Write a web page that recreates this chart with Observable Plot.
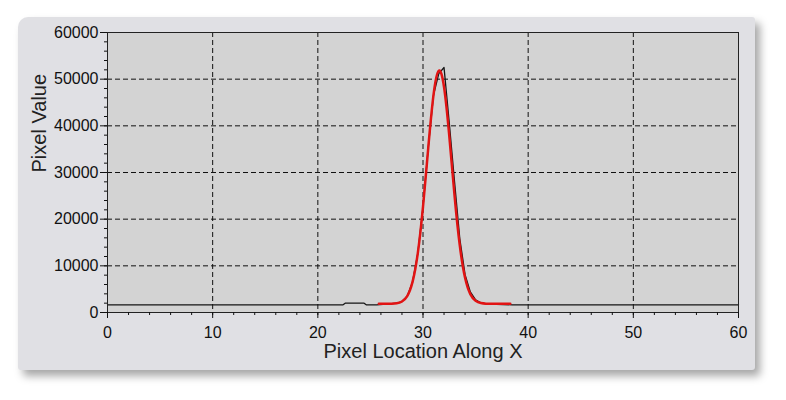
<!DOCTYPE html>
<html>
<head>
<meta charset="utf-8">
<script src="https://cdn.jsdelivr.net/npm/d3@7"></script>
<script src="https://cdn.jsdelivr.net/npm/@observablehq/plot@0.6"></script>
<style>
html, body { margin: 0; padding: 0; background: #ffffff; width: 786px; height: 400px; overflow: hidden; }
#panel { position: absolute; left: 18px; top: 17px; width: 737px; height: 353px; background: #e0e0e4;
  border-radius: 10px 3px 3px 3px; box-shadow: 5px 6px 8px rgba(0,0,0,0.35); }
#chart { position: absolute; left: 0; top: 0; }
</style>
</head>
<body>
<div id="panel"></div>
<div id="chart"></div>
<script>
// Measured pixel profile (black)
const profileX = [0, 22.4, 22.6, 24.4, 24.6, 25.6, 26.5, 27.5, 28, 28.5, 29, 29.5, 30, 30.5, 31, 31.5, 32, 32.5, 33, 33.5, 34, 34.5, 35, 35.5, 36, 37, 38.5, 60];
const profileY = [1650, 1650, 2000, 2000, 1650, 1650, 1800, 2000, 2350, 3500, 6500, 12600, 22600, 35300, 46600, 51200, 52500, 40600, 28000, 15800, 8100, 4400, 2700, 2100, 1850, 1750, 1650, 1650];

// Fitted curve (red)
const fitX = [25.8, 26.5, 27, 27.5, 28, 28.5, 29, 29.5, 30, 30.5, 31, 31.5, 32, 32.5, 33, 33.5, 34, 34.5, 35, 35.5, 36, 36.5, 37, 38.3];
const fitY = [1850, 1850, 1876, 1975, 2350, 3520, 6500, 12630, 22640, 35280, 46620, 51800, 48290, 37810, 25050, 14320, 7440, 3940, 2500, 2020, 1890, 1855, 1850, 1850];

const xTicks = [0, 10, 20, 30, 40, 50, 60];
const yTicks = [0, 10000, 20000, 30000, 40000, 50000, 60000];
const xGrid = [10, 20, 30, 40, 50];
const yGrid = [10000, 20000, 30000, 40000, 50000];
const xMinor = d3.range(0, 61, 2);
const yMinor = d3.range(0, 60001, 2000);

const xTitle = "Pixel Location Along X";
const yTitle = "Pixel Value";

const profile = profileX.map((x, i) => ({x, y: profileY[i]}));
const fit = fitX.map((x, i) => ({x, y: fitY[i]}));

const font = "'Liberation Sans', Arial, sans-serif";

const chart = Plot.plot({
  width: 786,
  height: 400,
  marginLeft: 107,
  marginRight: 48,
  marginTop: 32,
  marginBottom: 88,
  style: { background: "transparent", fontFamily: font, fontSize: "16px", color: "#111" },
  x: { domain: [0, 60], label: null },
  y: { domain: [0, 60000], label: null },
  marks: [
    Plot.frame({ fill: "#d3d3d3", stroke: null }),
    Plot.gridX(xGrid, { stroke: "#111", strokeOpacity: 1, strokeWidth: 1, strokeDasharray: "5,3" }),
    Plot.gridY(yGrid, { stroke: "#111", strokeOpacity: 1, strokeWidth: 1, strokeDasharray: "5,3" }),
    Plot.line(profile, { x: "x", y: "y", stroke: "#151515", strokeWidth: 1.3 }),
    Plot.line(fit, { x: "x", y: "y", stroke: "#e11414", strokeWidth: 2.5, curve: "natural" }),
    Plot.frame({ stroke: "#222", strokeWidth: 1 }),
    Plot.axisX(xMinor, { tickSize: 3, tickFormat: () => "", stroke: "#111" }),
    Plot.axisX(xTicks, { tickSize: 6, tickPadding: 8, tickFormat: d => String(d), stroke: "#111", fill: "#111" }),
    Plot.axisY(yMinor, { tickSize: 3, tickFormat: () => "", stroke: "#111" }),
    Plot.axisY(yTicks, { tickSize: 7, tickPadding: 2, tickFormat: d => String(d), stroke: "#111", fill: "#111" }),
    Plot.text([xTitle], { frameAnchor: "bottom", dy: 45, text: d => d, fontSize: 20, fill: "#222" }),
    Plot.text([yTitle], { frameAnchor: "left", dx: -68, rotate: -90, text: d => d, fontSize: 20, fill: "#222" })
  ]
});
document.getElementById("chart").appendChild(chart);
</script>
</body>
</html>
